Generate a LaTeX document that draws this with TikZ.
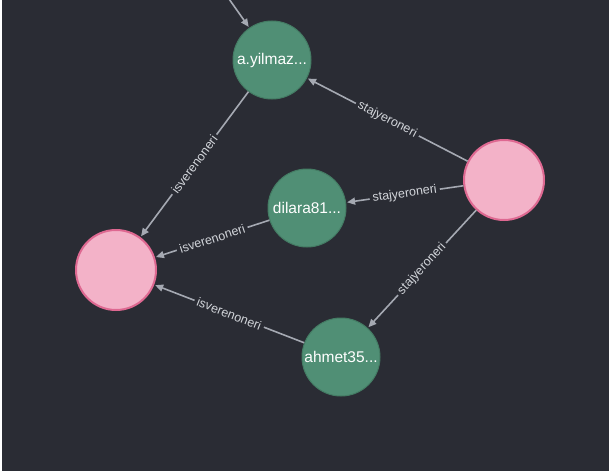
\documentclass[tikz,border=0pt]{standalone}
\usepackage{fontspec}
\setmainfont{Liberation Sans}
\usepackage{tikz}
\usetikzlibrary{arrows.meta,positioning}
\definecolor{bgdark}{RGB}{42,44,52}
\definecolor{usrgreen}{RGB}{80,143,117}
\definecolor{usrborder}{RGB}{68,124,100}
\definecolor{firmpink}{RGB}{243,178,200}
\definecolor{firmborder}{RGB}{222,104,145}
\definecolor{relgray}{RGB}{165,169,178}
\definecolor{lbltext}{RGB}{210,213,218}
\tikzset{
    %Define standard arrow tip
    >={Triangle[length=8pt,width=7pt]},
    %Define style for user nodes
    usr/.style={
           circle,
           draw=usrborder, line width=1pt,
           fill=usrgreen,
           minimum size=78pt,
           inner sep=0pt,
           text=white,
           font=\fontsize{15.5}{15.5}\selectfont,
           text centered},
    %Define style for company nodes
    firm/.style={
           circle,
           draw=firmborder, line width=2pt,
           fill=firmpink,
           minimum size=80pt,
           inner sep=0pt},
    % Define relation label style
    lbl/.style={
           sloped,
           fill=bgdark,
           text=lbltext,
           inner xsep=3pt,
           inner ysep=0.5pt,
           font=\fontsize{12.5}{12.5}\selectfont}
}
\begin{document}
\begin{tikzpicture}[->,shorten >=1pt,x=1pt,y=1pt,on grid,
  line width=1.6pt,draw=relgray]
 %background
\fill[white] (0,0) rectangle (609,475);
\fill[bgdark] (2,4) rectangle (609,475);
\useasboundingbox (0,0) rectangle (609,475);
\clip (0,0) rectangle (609,475);
 %nodes
\node[usr](ayilmaz) at (272,415){a.yilmaz...};
\node[firm, below left=210pt and 156pt of ayilmaz](firmL){};
\node[firm, below right=120pt and 232pt of ayilmaz](firmR){};
\node[usr, below left=28pt and 197pt of firmR](dilara){dilara81...};
\node[usr, below left=177pt and 163pt of firmR](ahmet){ahmet35...};
\coordinate (incoming) at (222,486);
 \path[draw=relgray]
   (incoming) edge (ayilmaz)
   (ayilmaz) edge node[lbl]{isverenoneri} (firmL)
   (firmR) edge node[lbl]{stajyeroneri} (ayilmaz)
           edge node[lbl]{stajyeroneri} (dilara)
           edge node[lbl]{stajyeroneri} (ahmet)
   (dilara) edge node[lbl]{isverenoneri} (firmL)
   (ahmet) edge node[lbl]{isverenoneri} (firmL);
\end{tikzpicture}
\end{document}
